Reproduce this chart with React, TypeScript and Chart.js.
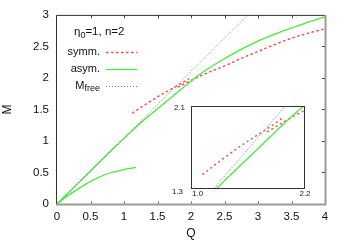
import React, { useEffect, useRef } from 'react';
import { Chart, registerables } from 'chart.js';

Chart.register(...registerables);

const FONT = '"Liberation Sans", Arial, Helvetica, sans-serif';

// asymmetric solution, upper branch
const asymQ = [0, 0.3, 0.6, 0.9, 1.1, 1.263, 1.5, 1.74, 1.99, 2.2, 2.49, 2.74, 2.99, 3.24, 3.49, 3.74, 4.0];
const asymM = [0, 0.315, 0.63, 0.94, 1.14, 1.3, 1.51, 1.72, 1.94, 2.11, 2.3, 2.45, 2.58, 2.69, 2.79, 2.88, 2.97];
// asymmetric solution, lower branch
const asymLowQ = [0, 0.15, 0.3, 0.5, 0.75, 1.0, 1.18];
const asymLowM = [0, 0.125, 0.23, 0.36, 0.48, 0.545, 0.58];
// symmetric solution, two branches
const symmUpQ = [1.12, 1.3, 1.5, 1.726, 1.85, 1.97];
const symmUpM = [1.44, 1.565, 1.7, 1.837, 1.91, 1.99];
const symmLoQ = [1.8, 2.0, 2.2, 2.5, 2.75, 3.0, 3.25, 3.5, 3.75, 4.0];
const symmLoM = [1.85, 1.96, 2.06, 2.19, 2.31, 2.42, 2.53, 2.63, 2.71, 2.78];
// free mass
const freeQ = [0, 1, 2, 3];
const freeM = [0, 1.053, 2.106, 3.159];

const xRange = [0, 4];
const yRange = [0, 3];
const tickStep = 0.5;
const insetX = [1.0, 2.2];
const insetY = [1.3, 2.1];

const xTitle = 'Q';
const yTitle = 'M';
const legendTitle = ['η', '0', '=1, n=2'];
const legendNames = ['symm.', 'asym.'];
const freeName = ['M', 'free'];

const RED = 'rgb(255,70,70)';
const GREEN = 'rgb(70,235,60)';
const GREY = 'rgb(120,120,120)';

const pts = (q: number[], m: number[]) => q.map((v, i) => ({ x: v, y: m[i] }));

const makeDatasets = (dash: number[]) => [
  { data: pts(freeQ, freeM), borderColor: GREY, borderWidth: 1, borderDash: [1, 2], pointRadius: 0 },
  { data: pts(asymQ, asymM), borderColor: GREEN, borderWidth: 1.3, pointRadius: 0, cubicInterpolationMode: 'monotone' },
  { data: pts(asymLowQ, asymLowM), borderColor: GREEN, borderWidth: 1.3, pointRadius: 0, cubicInterpolationMode: 'monotone' },
  { data: pts(symmUpQ, symmUpM), borderColor: RED, borderWidth: 1.4, borderDash: dash, pointRadius: 0, cubicInterpolationMode: 'monotone' },
  { data: pts(symmLoQ, symmLoM), borderColor: RED, borderWidth: 1.4, borderDash: dash, pointRadius: 0, cubicInterpolationMode: 'monotone' },
];

const mainDecor = {
  id: 'mainDecor',
  afterDraw(chart: any) {
    const { ctx, chartArea: a, scales } = chart;
    const x = scales.x;
    const y = scales.y;
    ctx.save();
    // ticks
    ctx.lineWidth = 1;
    for (let v = xRange[0] + tickStep; v < xRange[1] - 1e-6; v += tickStep) {
      const px = Math.round(x.getPixelForValue(v)) + 0.5;
      ctx.strokeStyle = '#444';
      ctx.beginPath();
      ctx.moveTo(px, a.top);
      ctx.lineTo(px, a.top + 3.5);
      ctx.stroke();
      ctx.strokeStyle = '#888';
      ctx.beginPath();
      ctx.moveTo(px, a.bottom);
      ctx.lineTo(px, a.bottom - 3);
      ctx.stroke();
    }
    for (let v = yRange[0] + tickStep; v < yRange[1] - 1e-6; v += tickStep) {
      const py = Math.round(y.getPixelForValue(v)) + 0.5;
      ctx.strokeStyle = '#444';
      ctx.beginPath();
      ctx.moveTo(a.right, py);
      ctx.lineTo(a.right - 3, py);
      ctx.stroke();
    }
    // frame
    ctx.strokeStyle = '#333';
    ctx.lineWidth = 1;
    ctx.beginPath();
    ctx.moveTo(a.left - 0.5, a.bottom);
    ctx.lineTo(a.left - 0.5, a.top + 0.5);
    ctx.lineTo(a.right, a.top + 0.5);
    ctx.stroke();
    ctx.strokeStyle = '#999';
    ctx.lineWidth = 2;
    ctx.beginPath();
    ctx.moveTo(a.left - 1, a.bottom + 0.5);
    ctx.lineTo(a.right + 0.5, a.bottom + 0.5);
    ctx.lineTo(a.right + 0.5, a.top);
    ctx.stroke();

    // legend
    ctx.fillStyle = '#111';
    ctx.textBaseline = 'middle';
    ctx.textAlign = 'left';
    let tx = 74;
    ctx.font = `11.5px ${FONT}`;
    ctx.fillText(legendTitle[0], tx, 32);
    tx += ctx.measureText(legendTitle[0]).width;
    ctx.font = `9px ${FONT}`;
    ctx.fillText(legendTitle[1], tx, 36);
    tx += ctx.measureText(legendTitle[1]).width;
    ctx.font = `11.5px ${FONT}`;
    ctx.fillText(legendTitle[2], tx, 32);

    const rowY = [52, 69, 86];
    ctx.textAlign = 'right';
    ctx.font = `11px ${FONT}`;
    ctx.fillText(legendNames[0], 100, rowY[0]);
    ctx.fillText(legendNames[1], 100, rowY[1]);
    ctx.font = `9px ${FONT}`;
    ctx.fillText(freeName[1], 100, rowY[2] + 3);
    const sw = ctx.measureText(freeName[1]).width;
    ctx.font = `11px ${FONT}`;
    ctx.fillText(freeName[0], 100 - sw, rowY[2]);

    const samples = [
      { c: RED, d: [2.5, 2.5], w: 1.4 },
      { c: GREEN, d: [], w: 1.3 },
      { c: GREY, d: [1, 2], w: 1 },
    ];
    samples.forEach((s, i) => {
      ctx.strokeStyle = s.c;
      ctx.lineWidth = s.w;
      ctx.setLineDash(s.d);
      ctx.beginPath();
      ctx.moveTo(106, rowY[i] + 0.5);
      ctx.lineTo(137, rowY[i] + 0.5);
      ctx.stroke();
    });
    ctx.setLineDash([]);
    ctx.restore();
  },
};

const insetDecor = {
  id: 'insetDecor',
  beforeDraw(chart: any) {
    const { ctx, chartArea: a } = chart;
    ctx.save();
    ctx.fillStyle = '#fff';
    ctx.fillRect(a.left, a.top, a.right - a.left, a.bottom - a.top);
    ctx.restore();
  },
  afterDraw(chart: any) {
    const { ctx, chartArea: a, scales } = chart;
    const x = scales.x;
    const y = scales.y;
    ctx.save();
    ctx.strokeStyle = '#333';
    ctx.lineWidth = 1;
    ctx.strokeRect(a.left + 0.5, a.top + 0.5, a.right - a.left - 1, a.bottom - a.top - 1);
    ctx.fillStyle = '#222';
    ctx.font = `8px ${FONT}`;
    ctx.textBaseline = 'middle';
    ctx.textAlign = 'right';
    ctx.fillText(insetY[1].toFixed(1), a.left - 6, y.getPixelForValue(insetY[1]) + 2);
    ctx.fillText(insetY[0].toFixed(1), a.left - 8, y.getPixelForValue(insetY[0]) + 3);
    ctx.textAlign = 'left';
    ctx.fillText(insetX[0].toFixed(1), x.getPixelForValue(insetX[0]) + 1, a.bottom + 5);
    ctx.textAlign = 'center';
    ctx.fillText(insetX[1].toFixed(1), x.getPixelForValue(insetX[1]), a.bottom + 5);
    ctx.restore();
  },
};

const fmt = (v: any) => String(Math.round(Number(v) * 100) / 100);

export default function App() {
  const mainRef = useRef<HTMLCanvasElement>(null);
  const insetRef = useRef<HTMLCanvasElement>(null);

  useEffect(() => {
    const main = new Chart(mainRef.current as HTMLCanvasElement, {
      type: 'line',
      data: { datasets: makeDatasets([2.5, 2.5]) as any },
      options: {
        animation: false,
        responsive: false,
        devicePixelRatio: 1,
        layout: { padding: { top: 13, right: 21, left: 0, bottom: 0 } },
        plugins: { legend: { display: false }, tooltip: { enabled: false } },
        scales: {
          x: {
            type: 'linear',
            min: xRange[0],
            max: xRange[1],
            grid: { display: false, drawTicks: false },
            border: { display: false },
            ticks: { stepSize: tickStep, autoSkip: false, padding: 6, color: '#111', font: { family: FONT, size: 11.5 }, callback: fmt },
            title: { display: true, text: xTitle, color: '#111', padding: { top: 0, bottom: 1 }, font: { family: FONT, size: 12 } },
            afterFit: (s: any) => { s.height = 38; },
          },
          y: {
            type: 'linear',
            min: yRange[0],
            max: yRange[1],
            grid: { display: false, drawTicks: false },
            border: { display: false },
            ticks: { stepSize: tickStep, autoSkip: false, padding: 8, color: '#111', font: { family: FONT, size: 11.5 }, callback: fmt },
            title: { display: true, text: yTitle, color: '#111', padding: { top: 0, bottom: 0 }, font: { family: FONT, size: 12 } },
            afterFit: (s: any) => { s.width = 57; },
          },
        },
      } as any,
      plugins: [mainDecor],
    });

    const inset = new Chart(insetRef.current as HTMLCanvasElement, {
      type: 'line',
      data: { datasets: makeDatasets([2, 3]) as any },
      options: {
        animation: false,
        responsive: false,
        devicePixelRatio: 1,
        layout: { padding: { top: 6, right: 11, left: 25, bottom: 13 } },
        plugins: { legend: { display: false }, tooltip: { enabled: false } },
        scales: {
          x: { type: 'linear', display: false, min: insetX[0], max: insetX[1] },
          y: { type: 'linear', display: false, min: insetY[0], max: insetY[1] },
        },
      } as any,
      plugins: [insetDecor],
    });

    return () => {
      main.destroy();
      inset.destroy();
    };
  }, []);

  return (
    <div style={{ position: 'fixed', left: 0, top: 0, width: 346, height: 242, background: '#fff' }}>
      <canvas ref={mainRef} width={346} height={242} style={{ position: 'absolute', left: 0, top: 0, width: 346, height: 242 }} />
      <canvas ref={insetRef} width={150} height={102} style={{ position: 'absolute', left: 166, top: 100, width: 150, height: 102 }} />
    </div>
  );
}
